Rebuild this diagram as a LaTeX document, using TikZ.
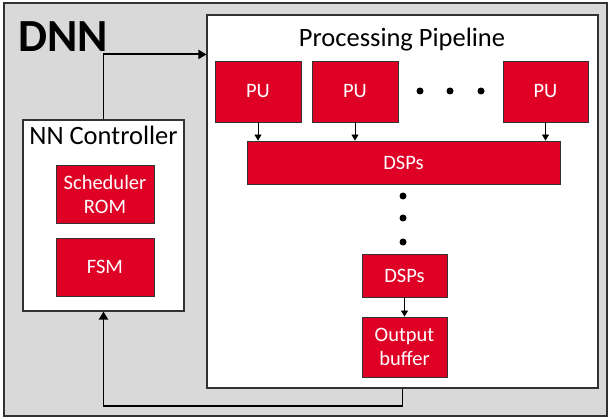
\documentclass[tikz,border=0pt]{standalone}
\usepackage{fontspec}
\setmainfont{Carlito}
\usetikzlibrary{arrows.meta,calc}
\definecolor{blockred}{RGB}{223,0,37}
\definecolor{panelgray}{RGB}{217,217,217}
\definecolor{edgegray}{RGB}{50,50,50}
\begin{document}
\begin{tikzpicture}[x=1pt,y=-1pt,
  redbox/.style={draw=edgegray,line width=0.9pt,fill=blockred,text=white,
    font=\fontsize{20.5}{24}\selectfont,align=center,inner sep=0pt},
  panel/.style={draw=edgegray,line width=1.1pt,fill=white,inner sep=0pt},
  thinarrow/.style={-{Triangle[length=6pt,width=7pt]},line width=0.7pt},
  thickarrow/.style={-{Triangle[length=8pt,width=9pt]},line width=1.9pt},
  dot/.style={circle,fill=black,inner sep=0pt,minimum size=7pt}]
\useasboundingbox (0,0) rectangle (609,419);
% outer DNN frame
\node[draw=edgegray,line width=1.1pt,fill=panelgray,minimum width=603pt,minimum height=413pt,inner sep=0pt] (dnn) at (305.5,209.5) {};
\node[anchor=base west,font=\fontsize{46}{50}\selectfont\bfseries] (dnnlabel) at (15,52) {DNN};
% processing pipeline
\node[panel,minimum width=391pt,minimum height=373pt] (pipe) at (402.5,201.5) {};
\node[font=\fontsize{26.5}{30}\selectfont,anchor=base] (pipetitle) at (402,47) {Processing Pipeline};
\node[redbox,minimum width=86pt,minimum height=61pt] (pu1) at (258,91.5) {PU};
\node[redbox,minimum width=86pt,minimum height=61pt] (pu2) at (355,91.5) {PU};
\node[redbox,minimum width=85pt,minimum height=61pt] (pu3) at (545.5,91.5) {PU};
\node[dot] (h1) at (420,91) {};
\node[dot] (h2) at (450,91) {};
\node[dot] (h3) at (481,91) {};
\node[redbox,minimum width=313pt,minimum height=43pt] (dsp) at (403.5,162.5) {DSPs};
\node[dot] (v1) at (403,196) {};
\node[dot] (v2) at (403,218) {};
\node[dot] (v3) at (403,242) {};
\node[redbox,minimum width=85pt,minimum height=43pt] (dsp2) at (404.5,275.5) {DSPs};
\node[redbox,minimum width=85pt,minimum height=60pt] (obuf) at (404.5,347) {Output\\buffer};
\draw[thinarrow] (pu1.south) -- (pu1.south |- dsp.north);
\draw[thinarrow] (pu2.south) -- (pu2.south |- dsp.north);
\draw[thinarrow] (pu3.south) -- (pu3.south |- dsp.north);
\draw[thinarrow] (dsp2.south) -- (obuf.north);
% NN controller
\node[panel,minimum width=161pt,minimum height=191pt] (ctrl) at (103.5,215.5) {};
\node[font=\fontsize{26.5}{30}\selectfont,anchor=base] (ctrltitle) at (103.5,145) {NN Controller};
\node[redbox,minimum width=98pt,minimum height=58pt] (sched) at (105,194) {Scheduler\\ROM};
\node[redbox,minimum width=98pt,minimum height=58pt] (fsm) at (105,267) {FSM};
% controller <-> pipeline links
\draw[thickarrow] (ctrl.north) |- ($(pipe.north west)+(0,40)$);
\draw[thickarrow] (pipe.south) -- ++(0,17) -| (ctrl.south);
\end{tikzpicture}
\end{document}
